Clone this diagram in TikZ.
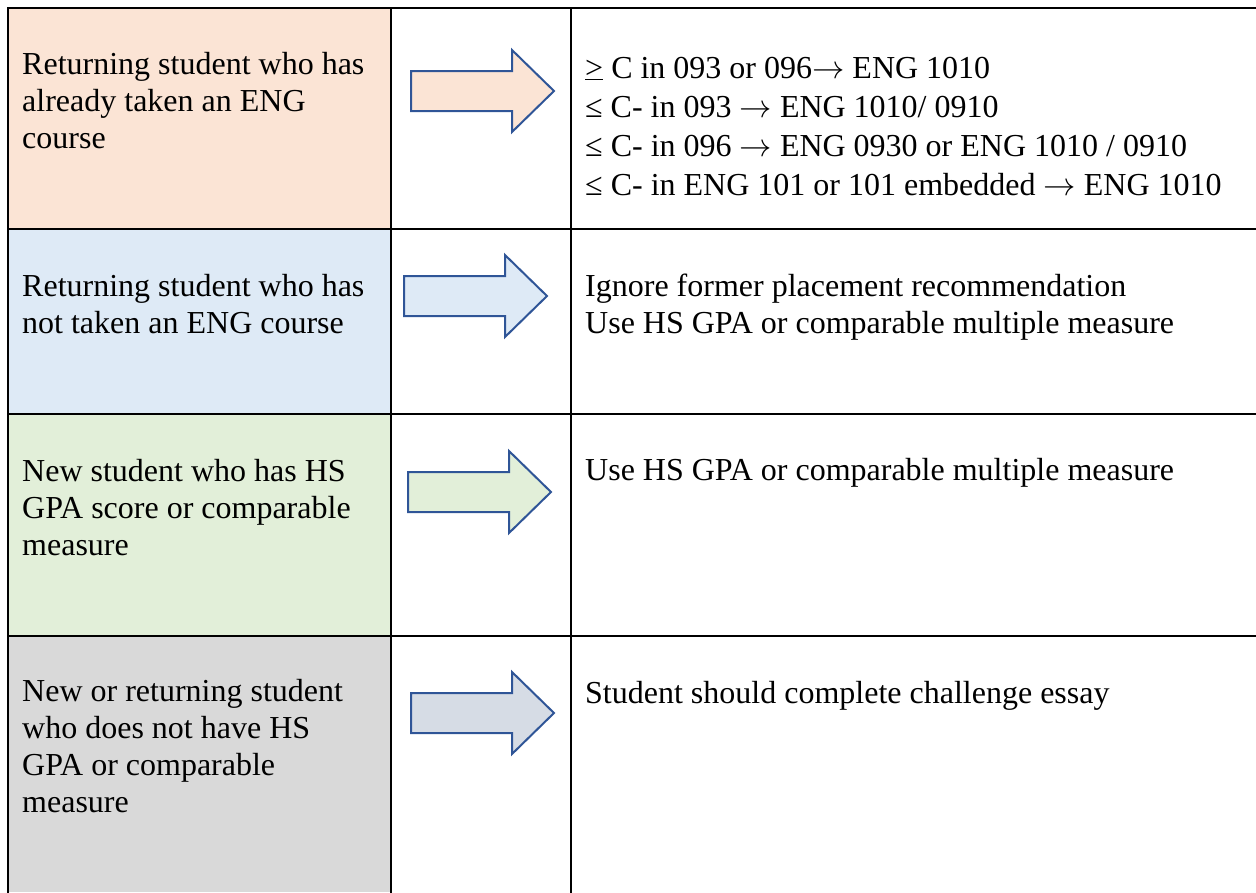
\documentclass[tikz,border=0pt]{standalone}
\usepackage{fontspec}
\setmainfont{Liberation Serif}
\usepackage{tikz}
\definecolor{peach}{HTML}{FBE4D5}
\definecolor{paleblue}{HTML}{DEEAF6}
\definecolor{palegreen}{HTML}{E2EFD9}
\definecolor{palegray}{HTML}{D9D9D9}
\definecolor{bluegray}{HTML}{D6DCE5}
\definecolor{arrowblue}{HTML}{2F5597}
% nodes sit on the baseline of their last line
\tikzstyle{cell}=[anchor=base west,inner sep=0pt,align=left,
font=\fontsize{32}{36.7}\selectfont]
\tikzstyle{rule}=[line width=2.5pt,draw=black,line cap=rect]
\tikzstyle{bigarrow}=[line width=2pt,draw=arrowblue,line join=miter]
% block arrow: left x, middle y, fill colour
\newcommand{\blockarrow}[3]{\draw[bigarrow,fill=#3] (#1,#2-20) -- (#1+101,#2-20) -- (#1+101,#2-41)
  -- (#1+143,#2) -- (#1+101,#2+41) -- (#1+101,#2+20) -- (#1,#2+20) -- cycle;}
\newcommand{\goesto}{\scalebox{1.3}{$\rightarrow$}}
\usetikzlibrary{positioning}

\begin{document}
\begin{tikzpicture}[x=1pt,y=-1pt]
            \useasboundingbox (0,0) rectangle (1256,892);

            % coloured first column
            \fill[peach] (8,8) rectangle (391,229);
            \fill[paleblue] (8,229) rectangle (391,414);
            \fill[palegreen] (8,414) rectangle (391,636);
            \fill[palegray] (8,636) rectangle (391,892);

            % table rules
            \foreach \y in {8,229,414,636} \draw[rule] (8,\y) -- (1256,\y);
            \foreach \x in {8,391,571} \draw[rule] (\x,8) -- (\x,892);

            % who is the student
            \node[cell] (c1) at (22,148) {Returning student who has\\already taken an ENG\\course};
            \node[cell] (c2) at (22,333.5) {Returning student who has\\not taken an ENG course};
            \node[cell] (c3) at (22,555) {New student who has HS\\GPA score or comparable\\measure};
            \node[cell] (c4) at (22,812) {New or returning student\\who does not have HS\\GPA or comparable\\measure};

            % arrows
            \blockarrow{411}{91}{peach}
            \blockarrow{404}{296}{paleblue}
            \blockarrow{408}{492}{palegreen}
            \blockarrow{411}{713}{bluegray}

            % placement
            \node[cell,font=\fontsize{32}{39}\selectfont] (r1) at (585,195) {\underline{>} C in 093 or 096\goesto{} ENG 1010\\≤ C- in 093 \goesto{} ENG 1010/ 0910\\≤ C- in 096 \goesto{} ENG 0930 or ENG 1010 / 0910\\≤ C- in ENG 101 or 101 embedded \goesto{} ENG 1010};
            \node[cell] (r2) at (585,333.5) {Ignore former placement recommendation\\Use HS GPA or comparable multiple measure};
            \node[cell] (r3) at (585,480) {Use HS GPA or comparable multiple measure};
            \node[cell] (r4) at (585,703) {Student should complete challenge essay};

\end{tikzpicture}
\end{document}
